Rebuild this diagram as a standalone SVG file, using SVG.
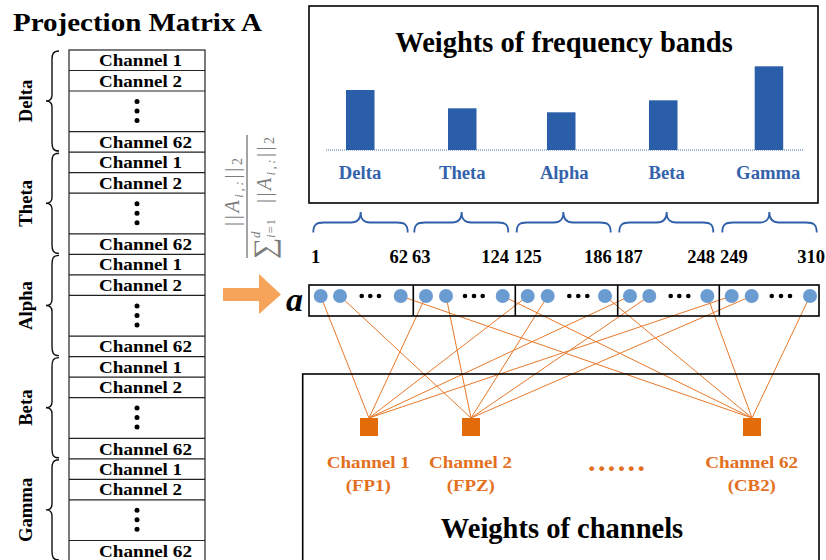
<svg xmlns="http://www.w3.org/2000/svg" width="826" height="560" viewBox="0 0 826 560">
<style>
.t{font-family:"Liberation Serif","Times New Roman",serif;font-weight:bold}
.ch{font-size:17px}
.bl{font-size:18.7px}
.row{fill:none;stroke:#222;stroke-width:1.2}
.brk{fill:none;stroke:#111;stroke-width:1.4}
.bbr{fill:none;stroke:#2e5fa8;stroke-width:1.8}
.bar{fill:#2a5ea8}
.blab{fill:#3463ab}
.dot{fill:#000}
.cir{fill:#6a9bd1}
.box{fill:none;stroke:#000;stroke-width:1.6}
.con line{stroke:#e8782a;stroke-width:1}
.sq{fill:#e36c0a}
.olab{fill:#e2701e}
.num{font-size:18.5px}
.fr{font-family:"Liberation Serif","Times New Roman",serif;fill:#7c7c7c}
</style>

<text class="t" x="13" y="31" font-size="26" textLength="249" lengthAdjust="spacingAndGlyphs">Projection Matrix A</text>

<!-- left projection matrix table -->
<g id="matrix">
  <rect x="69" y="50" width="136" height="511" class="row" stroke-width="1.5"/>
  <g class="row">
    <line x1="69" y1="70.5" x2="205" y2="70.5"/><line x1="69" y1="91" x2="205" y2="91"/><line x1="69" y1="131.7" x2="205" y2="131.7"/><line x1="69" y1="152.2" x2="205" y2="152.2"/>
    <line x1="69" y1="172.7" x2="205" y2="172.7"/><line x1="69" y1="193.2" x2="205" y2="193.2"/><line x1="69" y1="233.9" x2="205" y2="233.9"/><line x1="69" y1="254.4" x2="205" y2="254.4"/>
    <line x1="69" y1="274.9" x2="205" y2="274.9"/><line x1="69" y1="295.4" x2="205" y2="295.4"/><line x1="69" y1="336.1" x2="205" y2="336.1"/><line x1="69" y1="356.6" x2="205" y2="356.6"/>
    <line x1="69" y1="377.1" x2="205" y2="377.1"/><line x1="69" y1="397.6" x2="205" y2="397.6"/><line x1="69" y1="438.3" x2="205" y2="438.3"/><line x1="69" y1="458.8" x2="205" y2="458.8"/>
    <line x1="69" y1="479.3" x2="205" y2="479.3"/><line x1="69" y1="499.8" x2="205" y2="499.8"/><line x1="69" y1="540.5" x2="205" y2="540.5"/>
  </g>
  <g class="t ch">
    <text x="99" y="66" textLength="83" lengthAdjust="spacingAndGlyphs">Channel 1</text>
    <text x="99" y="86.5" textLength="83" lengthAdjust="spacingAndGlyphs">Channel 2</text>
    <text x="99" y="148" textLength="93" lengthAdjust="spacingAndGlyphs">Channel 62</text>
    <text x="99" y="168.2" textLength="83" lengthAdjust="spacingAndGlyphs">Channel 1</text>
    <text x="99" y="188.7" textLength="83" lengthAdjust="spacingAndGlyphs">Channel 2</text>
    <text x="99" y="250.2" textLength="93" lengthAdjust="spacingAndGlyphs">Channel 62</text>
    <text x="99" y="270.4" textLength="83" lengthAdjust="spacingAndGlyphs">Channel 1</text>
    <text x="99" y="290.9" textLength="83" lengthAdjust="spacingAndGlyphs">Channel 2</text>
    <text x="99" y="352.4" textLength="93" lengthAdjust="spacingAndGlyphs">Channel 62</text>
    <text x="99" y="372.6" textLength="83" lengthAdjust="spacingAndGlyphs">Channel 1</text>
    <text x="99" y="393.1" textLength="83" lengthAdjust="spacingAndGlyphs">Channel 2</text>
    <text x="99" y="454.6" textLength="93" lengthAdjust="spacingAndGlyphs">Channel 62</text>
    <text x="99" y="474.8" textLength="83" lengthAdjust="spacingAndGlyphs">Channel 1</text>
    <text x="99" y="495.3" textLength="83" lengthAdjust="spacingAndGlyphs">Channel 2</text>
    <text x="99" y="556.8" textLength="93" lengthAdjust="spacingAndGlyphs">Channel 62</text>
  </g>
  <g class="dot">
    <circle cx="137" cy="101.5" r="2.5"/><circle cx="137" cy="111" r="2.5"/><circle cx="137" cy="120.5" r="2.5"/>
    <circle cx="137" cy="203.7" r="2.5"/><circle cx="137" cy="213.2" r="2.5"/><circle cx="137" cy="222.7" r="2.5"/>
    <circle cx="137" cy="305.9" r="2.5"/><circle cx="137" cy="315.4" r="2.5"/><circle cx="137" cy="324.9" r="2.5"/>
    <circle cx="137" cy="408.1" r="2.5"/><circle cx="137" cy="417.6" r="2.5"/><circle cx="137" cy="427.1" r="2.5"/>
    <circle cx="137" cy="510.3" r="2.5"/><circle cx="137" cy="519.8" r="2.5"/><circle cx="137" cy="529.3" r="2.5"/>
  </g>
</g>

<!-- left band braces and labels -->
<g id="band-delta">
  <path class="brk" d="M59,51 C53,51 52,54 52,60 L52,95 C52,99 50,101 46,101 C50,101 52,103 52,107 L52,142 C52,148 53,151 59,151"/>
  <text class="t bl" transform="translate(32,101) rotate(-90)" text-anchor="middle">Delta</text>
</g>
<g id="band-theta">
  <path class="brk" d="M59,153.2 C53,153.2 52,156.2 52,162.2 L52,197.3 C52,201.3 50,203.3 46,203.3 C50,203.3 52,205.3 52,209.3 L52,244.4 C52,250.4 53,253.4 59,253.4"/>
  <text class="t bl" transform="translate(32,203.3) rotate(-90)" text-anchor="middle">Theta</text>
</g>
<g id="band-alpha">
  <path class="brk" d="M59,255.4 C53,255.4 52,258.4 52,264.4 L52,299.5 C52,303.5 50,305.5 46,305.5 C50,305.5 52,307.5 52,311.5 L52,346.6 C52,352.6 53,355.6 59,355.6"/>
  <text class="t bl" transform="translate(32,305.5) rotate(-90)" text-anchor="middle">Alpha</text>
</g>
<g id="band-beta">
  <path class="brk" d="M59,357.6 C53,357.6 52,360.6 52,366.6 L52,401.7 C52,405.7 50,407.7 46,407.7 C50,407.7 52,409.7 52,413.7 L52,448.8 C52,454.8 53,457.8 59,457.8"/>
  <text class="t bl" transform="translate(32,407.7) rotate(-90)" text-anchor="middle">Beta</text>
</g>
<g id="band-gamma">
  <path class="brk" d="M59,459.8 C53,459.8 52,462.8 52,468.8 L52,503.9 C52,507.9 50,509.9 46,509.9 C50,509.9 52,511.9 52,515.9 L52,551 C52,557 53,560 59,560"/>
  <text class="t bl" transform="translate(32,509.9) rotate(-90)" text-anchor="middle">Gamma</text>
</g>

<!-- normalisation formula -->
<g id="formula" class="fr" transform="translate(250,196) rotate(-90)">
  <line x1="-62" y1="-3" x2="61" y2="-3" stroke="#7c7c7c" stroke-width="1.4"/>
  <text x="4" y="-11" font-size="20" text-anchor="middle" textLength="68" lengthAdjust="spacing">||<tspan font-style="italic">A</tspan><tspan font-size="13" font-style="italic" dy="4">i,:</tspan><tspan dy="-4">||</tspan><tspan font-size="14" dy="3">2</tspan></text>
  <text x="-63" y="24" font-size="30">∑</text>
  <text x="-42" y="10" font-size="13" font-style="italic">d</text>
  <text x="-42" y="25" font-size="13" textLength="19" lengthAdjust="spacing"><tspan font-style="italic">i</tspan>=1</text>
  <text x="-7" y="21" font-size="20" textLength="66" lengthAdjust="spacing">||<tspan font-style="italic">A</tspan><tspan font-size="13" font-style="italic" dy="4">i,:</tspan><tspan dy="-4">||</tspan><tspan font-size="14" dy="3">2</tspan></text>
</g>

<!-- arrow -->
<g id="arrow">
  <polygon points="223,288 259,288 259,274 281,294.5 259,314 259,301 223,301" fill="#f5a45a"/>
</g>

<!-- frequency band weights chart -->
<g id="band-weights">
  <rect x="309" y="6" width="509" height="197" class="box"/>
  <text class="t" x="564" y="52" font-size="28.5" text-anchor="middle">Weights of frequency bands</text>
  <line x1="326" y1="150" x2="803" y2="150" stroke="#4a6fae" stroke-width="1" stroke-dasharray="1,1"/>
  <rect class="bar" x="346" y="90" width="28.5" height="60"/>
  <rect class="bar" x="448" y="108.3" width="28.5" height="41.7"/>
  <rect class="bar" x="547" y="112.3" width="28.5" height="37.7"/>
  <rect class="bar" x="649" y="100.3" width="28.5" height="49.7"/>
  <rect class="bar" x="754.7" y="66.3" width="28.5" height="83.7"/>
  <g class="t bl blab" text-anchor="middle">
    <text x="360" y="179">Delta</text>
    <text x="462.3" y="179">Theta</text>
    <text x="564.3" y="179">Alpha</text>
    <text x="666.7" y="179">Beta</text>
    <text x="768.3" y="179">Gamma</text>
  </g>
</g>

<!-- blue braces -->
<g id="vector-braces" class="bbr">
  <path d="M313.3,232.5 C313.3,225 316,222.5 324,222.5 L351,222.5 C357,222.5 360.7,220 360.7,212 C360.7,220 364,222.5 370,222.5 L397,222.5 C405,222.5 407.7,225 407.7,232.5"/>
  <path d="M414.3,232.5 C414.3,225 417,222.5 425,222.5 L452,222.5 C458,222.5 461.7,220 461.7,212 C461.7,220 465,222.5 471,222.5 L498,222.5 C506,222.5 508.3,225 508.3,232.5"/>
  <path d="M516.7,232.5 C516.7,225 519,222.5 527,222.5 L554,222.5 C560,222.5 563.3,220 563.3,212 C563.3,220 567,222.5 573,222.5 L600,222.5 C608,222.5 610.7,225 610.7,232.5"/>
  <path d="M619.3,232.5 C619.3,225 622,222.5 630,222.5 L657,222.5 C663,222.5 666.7,220 666.7,212 C666.7,220 670,222.5 676,222.5 L703,222.5 C711,222.5 713.3,225 713.3,232.5"/>
  <path d="M722.3,232.5 C722.3,225 725,222.5 733,222.5 L760,222.5 C766,222.5 769.3,220 769.3,212 C769.3,220 773,222.5 779,222.5 L806,222.5 C814,222.5 816.7,225 816.7,232.5"/>
</g>

<!-- index numbers -->
<g id="indices" class="t num">
  <text x="311" y="263">1</text>
  <text x="408" y="263" text-anchor="end">62</text>
  <text x="412" y="263">63</text>
  <text x="509" y="263" text-anchor="end">124</text>
  <text x="514" y="263">125</text>
  <text x="611.7" y="263" text-anchor="end">186</text>
  <text x="615" y="263">187</text>
  <text x="715" y="263" text-anchor="end">248</text>
  <text x="720" y="263">249</text>
  <text x="825" y="263" text-anchor="end">310</text>
</g>

<!-- connectors -->
<g id="connectors" class="con">
  <line x1="320.7" y1="296" x2="369" y2="418"/>
  <line x1="426" y1="296" x2="369" y2="418"/>
  <line x1="527.7" y1="296" x2="369" y2="418"/>
  <line x1="630" y1="296" x2="369" y2="418"/>
  <line x1="731.7" y1="296" x2="369" y2="418"/>
  <line x1="340" y1="296" x2="471" y2="418"/>
  <line x1="446" y1="296" x2="471" y2="418"/>
  <line x1="547.7" y1="296" x2="471" y2="418"/>
  <line x1="649.3" y1="296" x2="471" y2="418"/>
  <line x1="751.7" y1="296" x2="471" y2="418"/>
  <line x1="400.7" y1="296" x2="752" y2="418"/>
  <line x1="502.7" y1="296" x2="752" y2="418"/>
  <line x1="605" y1="296" x2="752" y2="418"/>
  <line x1="707.3" y1="296" x2="752" y2="418"/>
  <line x1="810" y1="296" x2="752" y2="418"/>
</g>

<!-- vector a -->
<g id="vector-a">
  <text class="t" x="286" y="311" font-size="34" font-style="italic">a</text>
  <rect x="309" y="285" width="510" height="31" class="box"/>
  <line x1="413.3" y1="285" x2="413.3" y2="316" stroke="#000" stroke-width="1.6"/>
  <line x1="515.3" y1="285" x2="515.3" y2="316" stroke="#000" stroke-width="1.6"/>
  <line x1="617.7" y1="285" x2="617.7" y2="316" stroke="#000" stroke-width="1.6"/>
  <line x1="719.3" y1="285" x2="719.3" y2="316" stroke="#000" stroke-width="1.6"/>
  <g class="cir">
    <circle cx="320.7" cy="296" r="7"/><circle cx="340" cy="296" r="7"/><circle cx="400.7" cy="296" r="7"/>
    <circle cx="426" cy="296" r="7"/><circle cx="446" cy="296" r="7"/><circle cx="502.7" cy="296" r="7"/>
    <circle cx="527.7" cy="296" r="7"/><circle cx="547.7" cy="296" r="7"/><circle cx="605" cy="296" r="7"/>
    <circle cx="630" cy="296" r="7"/><circle cx="649.3" cy="296" r="7"/><circle cx="707.3" cy="296" r="7"/>
    <circle cx="731.7" cy="296" r="7"/><circle cx="751.7" cy="296" r="7"/><circle cx="810" cy="296" r="7"/>
  </g>
  <g class="dot">
    <circle cx="361.7" cy="296" r="2.3"/><circle cx="370.3" cy="296" r="2.3"/><circle cx="379" cy="296" r="2.3"/>
    <circle cx="465" cy="296" r="2.3"/><circle cx="474" cy="296" r="2.3"/><circle cx="482.7" cy="296" r="2.3"/>
    <circle cx="569.3" cy="296" r="2.3"/><circle cx="578.3" cy="296" r="2.3"/><circle cx="587.3" cy="296" r="2.3"/>
    <circle cx="670.7" cy="296" r="2.3"/><circle cx="679.3" cy="296" r="2.3"/><circle cx="688.3" cy="296" r="2.3"/>
    <circle cx="771.7" cy="296" r="2.3"/><circle cx="781" cy="296" r="2.3"/><circle cx="790" cy="296" r="2.3"/>
  </g>
</g>

<!-- channel weights box -->
<g id="channel-weights">
  <rect x="302.7" y="374" width="516.3" height="200" class="box"/>
  <text class="t" x="562" y="538" font-size="28.5" text-anchor="middle">Weights of channels</text>
  <text class="t olab" x="588" y="470.5" font-size="30" textLength="57" lengthAdjust="spacing">......</text>
</g>
<g id="channel-1">
  <rect class="sq" x="360" y="418" width="18" height="18"/>
  <text class="t ch olab" x="368.3" y="468.3" text-anchor="middle" textLength="83" lengthAdjust="spacingAndGlyphs">Channel 1</text>
  <text class="t ch olab" x="368.3" y="491" text-anchor="middle" textLength="45" lengthAdjust="spacingAndGlyphs">(FP1)</text>
</g>
<g id="channel-2">
  <rect class="sq" x="462" y="418" width="18" height="18"/>
  <text class="t ch olab" x="470.6" y="468.3" text-anchor="middle" textLength="83" lengthAdjust="spacingAndGlyphs">Channel 2</text>
  <text class="t ch olab" x="470.8" y="491" text-anchor="middle" textLength="48" lengthAdjust="spacingAndGlyphs">(FPZ)</text>
</g>
<g id="channel-62">
  <rect class="sq" x="743" y="418" width="18" height="18"/>
  <text class="t ch olab" x="751.7" y="468.3" text-anchor="middle" textLength="93" lengthAdjust="spacingAndGlyphs">Channel 62</text>
  <text class="t ch olab" x="751.8" y="491" text-anchor="middle" textLength="48" lengthAdjust="spacingAndGlyphs">(CB2)</text>
</g>
</svg>
